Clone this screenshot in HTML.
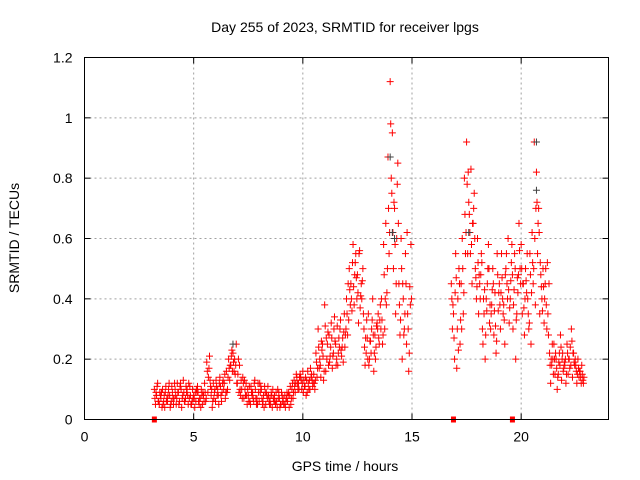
<!DOCTYPE html>
<html><head><meta charset="utf-8"><style>
body{margin:0;background:#fff}
svg{display:block;font-family:"Liberation Sans",sans-serif}
</style></head><body>
<svg id="chart" width="640" height="480">
<rect width="640" height="480" fill="#fff"/>
<text x="345" y="32" font-size="14" text-anchor="middle" fill="#000">Day 255 of 2023, SRMTID for receiver lpgs</text>
<g id="grid"></g>
<g id="ticks"></g>
<g id="marks"></g>
<rect x="84.5" y="57.5" width="524" height="362" fill="none" stroke="#000" stroke-width="1"/>
<text x="345" y="471" font-size="14" text-anchor="middle">GPS time / hours</text>
<text x="0" y="0" font-size="14" text-anchor="middle" transform="translate(19,238) rotate(-90)">SRMTID / TECUs</text>
</svg>
<script>
const xTicks=[0,5,10,15,20];
const yTicks=[0,0.2,0.4,0.6,0.8,1,1.2];
const yTickLabels=["0","0.2","0.4","0.6","0.8","1","1.2"];
const hours1=[3.2,3.3,3.4,3.5,3.6,3.7,3.8,3.9,4.0,4.1,4.2,4.3,4.4,4.5,4.6,4.7,4.8,4.9,5.0,5.1,5.2,5.3,5.4,
5.5,5.6,5.7,5.8,5.9,6.0,6.1,6.2,6.3,6.4,6.5,6.6,6.7,6.8,6.9,
7.0,7.1,7.2,7.3,7.4,7.5,7.6,7.7,7.8,7.9,8.0,8.1,8.2,8.3,8.4,8.5,8.6,8.7,8.8,8.9,9.0,9.1,9.2,9.3,9.4,
9.5,9.6,9.7,9.8,9.9,10.0,10.1,10.2,10.3,10.4,
10.5,10.6,10.7,10.8,10.9,11.0,11.1,11.2,11.3,11.4,11.5,11.6,11.7,11.8,11.9,
12.0,12.1,12.2,12.3,12.4,12.5,12.6,12.7,
12.8,12.9,13.0,13.1,13.2,13.3,13.4,13.5,
13.6,13.7,13.8,13.9,14.0,14.1,14.2,14.3,14.4,
14.5,14.6,14.7,14.8,14.9,
16.8,16.9,17.0,17.1,17.2,17.3,17.4,
17.5,17.6,17.7,17.8,17.9,
18.0,18.1,18.2,18.3,18.4,18.5,18.6,18.7,18.8,18.9,
19.0,19.1,19.2,19.3,19.4,19.5,19.6,19.7,19.8,19.9,
20.0,20.1,20.2,20.3,20.4,20.5,20.6,20.7,20.8,20.9,
21.0,21.1,21.2,
21.3,21.4,21.5,21.6,21.7,21.8,21.9,22.0,22.1,22.2,22.3,22.4,22.5,22.6,22.7,22.8];
const srmtidA=[.10,.08,.06,.07,.05,.09,.06,.08,.11,.07,.05,.09,.12,.08,.06,.10,.07,.05,.08,.06,.09,.07,.05,
.12,.19,.17,.08,.12,.06,.10,.14,.09,.12,.16,.20,.18,.22,.15,
.12,.18,.10,.07,.12,.08,.05,.09,.13,.07,.06,.10,.08,.05,.11,.07,.04,.08,.06,.09,.05,.07,.04,.06,.08,
.10,.13,.15,.12,.14,.16,.11,.09,.13,.15,
.15,.22,.30,.18,.25,.38,.20,.28,.32,.22,.25,.18,.30,.24,.35,
.40,.33,.45,.58,.52,.48,.56,.40,
.30,.22,.35,.26,.40,.28,.32,.25,
.40,.58,.65,.87,1.12,.95,.70,.60,.45,
.60,.40,.55,.35,.44,
.45,.35,.55,.40,.25,.60,.80,
.92,.72,.83,.65,.50,
.60,.45,.52,.35,.40,.58,.30,.50,.42,.55,
.45,.55,.38,.50,.60,.40,.48,.55,.35,.65,
.58,.45,.50,.40,.55,.62,.92,.82,.70,.48,
.50,.45,.52,
.22,.18,.25,.20,.15,.28,.22,.18,.25,.20,.30,.22,.18,.20,.16,.15];
const srmtidB=[.05,.12,.09,.04,.08,.06,.10,.05,.07,.10,.12,.06,.04,.09,.11,.05,.08,.10,.04,.09,.05,.10,.08,
.06,.09,.13,.04,.09,.11,.05,.08,.13,.07,.10,.13,.23,.16,.25,
.20,.08,.14,.10,.05,.11,.09,.06,.07,.12,.09,.05,.11,.08,.06,.09,.07,.05,.10,.04,.08,.05,.07,.09,.05,
.07,.09,.12,.14,.10,.13,.08,.12,.17,.11,
.10,.14,.17,.26,.13,.16,.29,.21,.17,.34,.20,.27,.23,.19,.28,
.28,.43,.36,.38,.47,.32,.41,.50,
.18,.27,.20,.30,.16,.24,.35,.38,
.25,.30,.42,.55,.80,.50,.35,.85,.28,
.20,.30,.25,.16,.58,
.30,.20,.17,.50,.45,.35,.55,
.55,.62,.45,.75,.40,
.35,.48,.25,.20,.45,.32,.38,.28,.22,.36,
.30,.40,.25,.45,.32,.52,.38,.20,.42,.50,
.35,.28,.42,.30,.25,.45,.38,.55,.35,.40,
.32,.38,.28,
.12,.20,.15,.10,.22,.13,.17,.12,.15,.24,.14,.18,.12,.14,.12,.12];
const srmtidC=[.07,.11,.05,.09,.06,.11,.08,.04,.09,.12,.07,.05,.10,.13,.07,.08,.11,.06,.07,.10,.06,.04,.09,
.09,.16,.21,.10,.07,.13,.08,.11,.12,.15,.09,.17,.21,.19,.18,
.15,.10,.07,.13,.08,.06,.11,.07,.10,.05,.12,.07,.04,.09,.08,.05,.10,.06,.04,.07,.09,.05,.06,.08,.11,
.12,.11,.14,.10,.13,.09,.14,.16,.10,.13,
.12,.19,.24,.14,.21,.31,.25,.19,.27,.30,.18,.22,.33,.27,.24,
.35,.50,.40,.44,.55,.42,.37,.46,
.24,.33,.18,.22,.28,.20,.30,.33,
.33,.48,.38,.70,.98,.62,.58,.78,.38,
.50,.28,.45,.30,.38,
.40,.27,.47,.23,.33,.50,.68,
.78,.68,.58,.70,.47,
.52,.40,.30,.43,.36,.50,.35,.45,.31,.48,
.38,.47,.33,.55,.43,.46,.30,.50,.47,.56,
.50,.37,.46,.35,.48,.52,.60,.72,.62,.44,
.44,.50,.35,
.18,.25,.20,.17,.19,.24,.16,.20,.22,.17,.26,.19,.16,.17,.14,.13];
const srmtidD=[.09,.06,.08,.10,.04,.07,.12,.06,.05,.08,.09,.11,.07,.06,.09,.12,.05,.07,.09,.11,.07,.08,.06,
.07,.14,.11,.06,.10,.08,.12,.06,.10,.09,.14,.18,.16,.20,.12,
.09,.13,.12,.08,.10,.06,.08,.12,.05,.09,.11,.06,.09,.07,.05,.08,.06,.09,.07,.05,.06,.08,.09,.04,.07,
.09,.12,.10,.15,.12,.11,.13,.10,.14,.12,
.13,.17,.20,.23,.16,.27,.18,.24,.21,.26,.31,.24,.21,.29,.30,
.45,.38,.52,.48,.40,.55,.45,.35,
.27,.20,.26,.33,.22,.31,.27,.30,
.28,.40,.50,.62,.75,.72,.45,.65,.33,
.45,.35,.62,.22,.40,
.38,.42,.30,.45,.30,.42,.62,
.82,.55,.65,.60,.44,
.48,.55,.40,.28,.50,.38,.43,.36,.26,.42,
.42,.35,.48,.40,.37,.58,.43,.33,.48,.45,
.45,.40,.55,.32,.42,.50,.70,.65,.52,.36,
.40,.30,.45,
.20,.15,.22,.14,.18,.20,.19,.15,.20,.18,.22,.20,.15,.16,.18,.14];
const grayHours=[14.0,14.1,20.7,20.7,6.8,17.6,14.2];
const grayVals=[.87,.62,.92,.76,.25,.62,.60];
const gapHours=[3.2,16.9,19.6];

const L=84.5,R=608.5,T=57.5,B=419.5;
const X=h=>L+(h/24)*(R-L);
const Y=v=>B-(v/1.2)*(B-T);
const NS="http://www.w3.org/2000/svg";
function mk(tag,attrs,parent){const e=document.createElementNS(NS,tag);for(const k in attrs)e.setAttribute(k,attrs[k]);parent.appendChild(e);return e;}
const grid=document.getElementById('grid'),ticks=document.getElementById('ticks'),marks=document.getElementById('marks');
xTicks.forEach(t=>{
  const x=X(t);
  if(t>0){const g=mk('line',{x1:x,x2:x,y1:T,y2:B,stroke:'#a0a0a0','stroke-dasharray':'2,3'},grid);
  
  }
  mk('line',{x1:x,x2:x,y1:B,y2:B-6,stroke:'#000'},ticks);
  mk('line',{x1:x,x2:x,y1:T,y2:T+6,stroke:'#000'},ticks);
  const tx=mk('text',{x:x,y:B+22,'font-size':14,'text-anchor':'middle'},ticks);tx.textContent=t;
  
  
});
yTicks.forEach((t,i)=>{
  const y=Y(t);
  if(t>0&&t<1.2){const g=mk('line',{x1:L,x2:R,y1:y,y2:y,stroke:'#a0a0a0','stroke-dasharray':'2,3'},grid);
  
  }
  mk('line',{x1:L,x2:L+6,y1:y,y2:y,stroke:'#000'},ticks);
  mk('line',{x1:R,x2:R-6,y1:y,y2:y,stroke:'#000'},ticks);
  const tx=mk('text',{x:L-12,y:y+5,'font-size':14,'text-anchor':'end'},ticks);tx.textContent=yTickLabels[i];
  
  
});
function plus(h,v,col,name){
  const x=X(h),y=Y(v);
  const p=mk('path',{d:`M${x-3.5},${y}h7M${x},${y-3.5}v7`,stroke:col,'stroke-width':1,fill:'none'},marks);
  
  
}
hours1.forEach((h,i)=>{
  plus(h,srmtidA[i],'#ff0000','point-a');
  plus(h+0.025,srmtidC[i],'#ff0000','point-c');
  plus(h+0.05,srmtidB[i],'#ff0000','point-b');
  plus(h+0.075,srmtidD[i],'#ff0000','point-d');
});
grayHours.forEach((h,i)=>plus(h,grayVals[i],'#404040','point-gray'));
gapHours.forEach(h=>{
  const r=mk('rect',{x:X(h)-2.5,y:B-3,width:5,height:6,fill:'#ff0000'},marks);
  
  
});
</script>
</body></html>
